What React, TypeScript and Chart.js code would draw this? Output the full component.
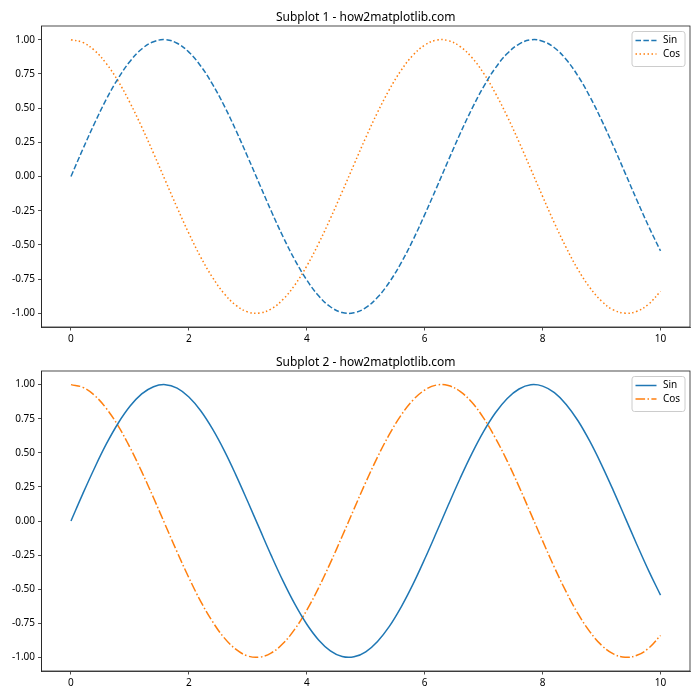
import React, { useEffect, useRef } from "react";
import { Chart, registerables } from "chart.js";

Chart.register(...registerables);

const xValues = [
  0, 0.2, 0.4, 0.6, 0.8, 1.0, 1.2, 1.4, 1.6, 1.8, 2.0, 2.2, 2.4, 2.6, 2.8, 3.0, 3.2, 3.4, 3.6, 3.8,
  4.0, 4.2, 4.4, 4.6, 4.8, 5.0, 5.2, 5.4, 5.6, 5.8, 6.0, 6.2, 6.4, 6.6, 6.8, 7.0, 7.2, 7.4, 7.6, 7.8,
  8.0, 8.2, 8.4, 8.6, 8.8, 9.0, 9.2, 9.4, 9.6, 9.8, 10.0,
];

const sinValues = [
  0, 0.199, 0.389, 0.565, 0.717, 0.841, 0.932, 0.985, 1.0, 0.974, 0.909, 0.808, 0.675, 0.516, 0.335,
  0.141, -0.058, -0.256, -0.443, -0.612, -0.757, -0.872, -0.952, -0.994, -0.996, -0.959, -0.883,
  -0.773, -0.631, -0.465, -0.279, -0.083, 0.117, 0.312, 0.494, 0.657, 0.794, 0.899, 0.968, 0.999,
  0.989, 0.941, 0.855, 0.735, 0.585, 0.412, 0.223, 0.025, -0.174, -0.366, -0.544,
];

const cosValues = [
  1.0, 0.98, 0.921, 0.825, 0.697, 0.54, 0.362, 0.17, -0.029, -0.227, -0.416, -0.589, -0.737, -0.857,
  -0.942, -0.99, -0.998, -0.967, -0.897, -0.791, -0.654, -0.49, -0.307, -0.112, 0.087, 0.284, 0.469,
  0.635, 0.776, 0.886, 0.96, 0.997, 0.993, 0.95, 0.87, 0.754, 0.608, 0.439, 0.252, 0.054, -0.146,
  -0.34, -0.52, -0.68, -0.811, -0.911, -0.975, -0.999, -0.985, -0.932, -0.839,
];

const xTicks = [0, 2, 4, 6, 8, 10];
const yTicks = [-1.0, -0.75, -0.5, -0.25, 0.0, 0.25, 0.5, 0.75, 1.0];

const titles = ["Subplot 1 - how2matplotlib.com", "Subplot 2 - how2matplotlib.com"];
const seriesNames = ["Sin", "Cos"];

const BLUE = "#1f77b4";
const ORANGE = "#ff7f0e";
const FONT = "'Noto Sans', 'DejaVu Sans', sans-serif";

type PanelCfg = {
  title: string;
  sinDash: number[];
  cosDash: number[];
  canvasHeight: number;
  top: number;
  bottom: number;
};

const panels: PanelCfg[] = [
  { title: titles[0], sinDash: [5.5, 2.4], cosDash: [1.5, 2.5], canvasHeight: 348, top: 26, bottom: 327 },
  { title: titles[1], sinDash: [], cosDash: [9.6, 2.4, 1.5, 2.4], canvasHeight: 352, top: 23, bottom: 323 },
];

function makePoints(ys: number[]) {
  return xValues.map((x, i) => ({ x, y: ys[i] }));
}

function Panel({ cfg }: { cfg: PanelCfg }) {
  const ref = useRef<HTMLCanvasElement | null>(null);
  useEffect(() => {
    if (!ref.current) return;
    const H = cfg.canvasHeight;
    const decor = {
      id: "decor",
      afterDatasetsDraw(chart: any) {
        const { ctx, chartArea } = chart;
        const { left, top, right, bottom } = chartArea;
        ctx.save();
        // frame
        ctx.strokeStyle = "#222";
        ctx.lineWidth = 0.8;
        ctx.strokeRect(left, top, right - left, bottom - top);
        // title
        ctx.fillStyle = "#000";
        ctx.font = `12px ${FONT}`;
        ctx.textAlign = "center";
        ctx.textBaseline = "alphabetic";
        ctx.fillText(cfg.title, (left + right) / 2, top - 5);
        // legend
        const bw = 53;
        const bh = 35;
        const bx = right - 5 - bw;
        const by = top + 5.5;
        ctx.beginPath();
        const r = 2.5;
        ctx.moveTo(bx + r, by);
        ctx.lineTo(bx + bw - r, by);
        ctx.quadraticCurveTo(bx + bw, by, bx + bw, by + r);
        ctx.lineTo(bx + bw, by + bh - r);
        ctx.quadraticCurveTo(bx + bw, by + bh, bx + bw - r, by + bh);
        ctx.lineTo(bx + r, by + bh);
        ctx.quadraticCurveTo(bx, by + bh, bx, by + bh - r);
        ctx.lineTo(bx, by + r);
        ctx.quadraticCurveTo(bx, by, bx + r, by);
        ctx.closePath();
        ctx.fillStyle = "rgba(255,255,255,0.8)";
        ctx.fill();
        ctx.strokeStyle = "#cccccc";
        ctx.lineWidth = 1;
        ctx.stroke();
        const items = [
          { name: seriesNames[0], color: BLUE, dash: cfg.sinDash },
          { name: seriesNames[1], color: ORANGE, dash: cfg.cosDash },
        ];
        items.forEach((it, i) => {
          const y = by + 9 + i * 13.6;
          ctx.beginPath();
          ctx.setLineDash(it.dash);
          ctx.strokeStyle = it.color;
          ctx.lineWidth = 1.5;
          ctx.moveTo(bx + 3.5, y);
          ctx.lineTo(bx + 24.5, y);
          ctx.stroke();
          ctx.setLineDash([]);
          ctx.fillStyle = "#000";
          ctx.font = `10px ${FONT}`;
          ctx.textAlign = "left";
          ctx.textBaseline = "middle";
          ctx.fillText(it.name, bx + 31, y);
        });
        ctx.restore();
      },
    };
    const chart = new Chart(ref.current, {
      type: "line",
      data: {
        datasets: [
          {
            label: seriesNames[0],
            data: makePoints(sinValues),
            borderColor: BLUE,
            borderWidth: 1.5,
            borderDash: cfg.sinDash,
            pointRadius: 0,
            tension: 0.4,
            fill: false,
          },
          {
            label: seriesNames[1],
            data: makePoints(cosValues),
            borderColor: ORANGE,
            borderWidth: 1.5,
            borderDash: cfg.cosDash,
            pointRadius: 0,
            tension: 0.4,
            fill: false,
          },
        ],
      },
      options: {
        animation: false,
        responsive: false,
        maintainAspectRatio: false,
        events: [],
        layout: { padding: { left: 0, right: 10, top: cfg.top, bottom: 0 } },
        plugins: { legend: { display: false }, title: { display: false }, tooltip: { enabled: false } },
        scales: {
          x: {
            type: "linear",
            min: -0.5,
            max: 10.5,
            afterBuildTicks: (axis: any) => {
              axis.ticks = xTicks.map((v) => ({ value: v }));
            },
            afterFit: (axis: any) => {
              axis.height = H - cfg.bottom;
            },
            grid: { drawOnChartArea: false, drawTicks: true, tickLength: 3.5, color: "#222", lineWidth: 0.8 },
            border: { display: true, color: "#222", width: 0.8 },
            ticks: {
              color: "#000",
              padding: 3,
              maxRotation: 0,
              autoSkip: false,
              font: { family: FONT, size: 10 },
              callback: (v: any) => String(v),
            },
          },
          y: {
            type: "linear",
            min: -1.1,
            max: 1.1,
            afterBuildTicks: (axis: any) => {
              axis.ticks = yTicks.map((v) => ({ value: v }));
            },
            afterFit: (axis: any) => {
              axis.width = 41.5;
            },
            grid: { drawOnChartArea: false, drawTicks: true, tickLength: 3.5, color: "#222", lineWidth: 0.8 },
            border: { display: true, color: "#222", width: 0.8 },
            ticks: {
              color: "#000",
              padding: 3,
              autoSkip: false,
              font: { family: FONT, size: 10 },
              callback: (v: any) => Number(v).toFixed(2),
            },
          },
        },
      },
      plugins: [decor],
    });
    return () => chart.destroy();
  }, [cfg]);
  return <canvas ref={ref} width={700} height={cfg.canvasHeight} style={{ display: "block", width: 700, height: cfg.canvasHeight }} />;
}

export default function App() {
  return (
    <div style={{ position: "absolute", left: 0, top: 0, width: 700, height: 700, background: "#fff" }}>
      {panels.map((p, i) => (
        <Panel key={i} cfg={p} />
      ))}
    </div>
  );
}
